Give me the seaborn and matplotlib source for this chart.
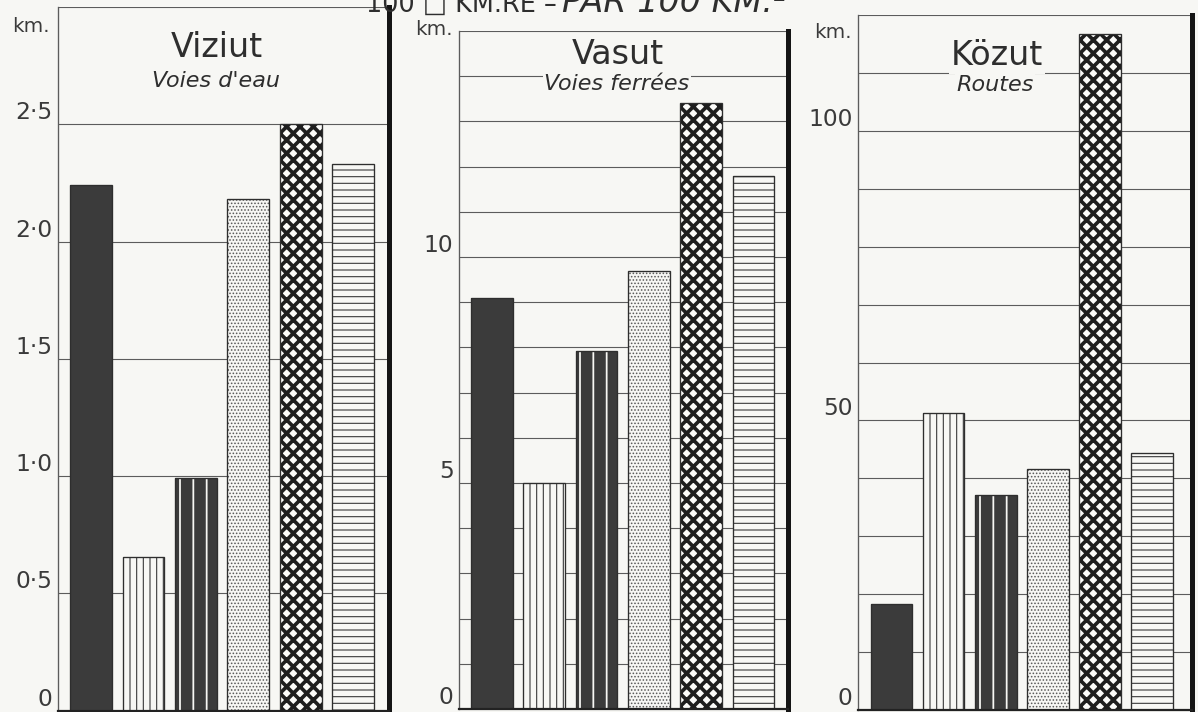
"""
Vízi-, vasúti- és közúti hálózat sűrűsége, km / 100 km²
"""

import numpy as np
import pandas as pd
import matplotlib
matplotlib.use('Agg')
import matplotlib.pyplot as plt
from matplotlib.patches import Rectangle
import seaborn as sns

# the six countries, in bar order (not named on the chart itself)
bar_keys = ['1', '2', '3', '4', '5', '6']

viziut_km = [2.24, 0.655, 0.99, 2.18, 2.50, 2.33]
vasut_km = [9.1, 5.0, 7.93, 9.7, 13.4, 11.8]
kozut_km = [18.3, 51.3, 37.1, 41.6, 116.8, 44.4]

panel_titles = ['Viziut', 'Vasut', 'Közut']
panel_subtitles = ["Voies d'eau", 'Voies ferrées', 'Routes']

viziut_ticks = [0, 0.5, 1.0, 1.5, 2.0, 2.5, 3.0]
viziut_ticklabels = ['0', '0·5', '1·0', '1·5', '2·0', '2·5', '']
vasut_ticks = list(range(0, 16))
vasut_ticklabels = ['0', '', '', '', '', '5', '', '', '', '', '10', '', '', '', '', '']
kozut_ticks = list(range(0, 130, 10))
kozut_ticklabels = ['0', '', '', '', '', '50', '', '', '', '', '100', '', '']

BG = '#f7f7f4'
INK = '#2e2e2e'
DARK = '#3b3b3b'
GRID = '#5c5c5c'

W, H, DPI = 1198, 712, 80

sns.set_style('white')
plt.rcParams['font.family'] = ['DejaVu Sans']
plt.rcParams['hatch.linewidth'] = 1.0
plt.rcParams['text.color'] = INK

# fill / hatch colour / hatch for the six bars
# (bar 5: thick dark cross-hatch leaves a staggered grid of light "dots")
bar_styles = [
    dict(fc=DARK, hc=DARK, hatch=None, hlw=1.0),
    dict(fc=BG, hc='#3a3a3a', hatch='||', hlw=1.0),
    dict(fc=DARK, hc=BG, hatch='|', hlw=1.6),
    dict(fc=BG, hc='#585858', hatch='....', hlw=0.9),
    dict(fc='#fbfbf9', hc='#1e1e1e', hatch='xx', hlw=3.3),
    dict(fc=BG, hc='#3a3a3a', hatch='--', hlw=1.0),
]


def frac(left, right, top, bottom):
    return [left / W, 1 - bottom / H, (right - left) / W, (bottom - top) / H]


fig = plt.figure(figsize=(W / DPI, H / DPI), dpi=DPI, facecolor=BG)

panels = [
    dict(vals=viziut_km, ticks=viziut_ticks, labels=viziut_ticklabels,
         box=frac(58, 389, 7, 710.6), xlim=(-0.63, 5.68)),
    dict(vals=vasut_km, ticks=vasut_ticks, labels=vasut_ticklabels,
         box=frac(459, 788, 31, 709), xlim=(-0.63, 5.66)),
    dict(vals=kozut_km, ticks=kozut_ticks, labels=kozut_ticklabels,
         box=frac(858, 1192, 15, 710), xlim=(-0.64, 5.76)),
]

for pan in panels:
    ax = fig.add_axes(pan['box'])
    ax.set_facecolor(BG)
    df = pd.DataFrame({'key': bar_keys, 'km': pan['vals']})
    sns.barplot(data=df, x='key', y='km', ax=ax, width=0.8, color=DARK,
                saturation=1, errorbar=None)

    for p, st in zip(list(ax.patches)[:len(bar_keys)], bar_styles):
        p.set_facecolor(st['fc'])
        p.set_edgecolor(st['hc'])
        p.set_linewidth(0)
        if st['hatch']:
            p.set_hatch(st['hatch'])
            if hasattr(p, 'set_hatch_linewidth'):
                p.set_hatch_linewidth(st['hlw'])
        ax.add_patch(Rectangle(p.get_xy(), p.get_width(), p.get_height(),
                               fill=False, ec=INK, lw=1.2, zorder=p.get_zorder() + 0.1))

    ax.set_xlim(*pan['xlim'])
    ax.set_ylim(pan['ticks'][0], pan['ticks'][-1])
    ax.set_yticks(pan['ticks'])
    ax.set_yticklabels(pan['labels'])
    for lab in ax.get_yticklabels():
        lab.set_verticalalignment('bottom')
    ax.set_xticks([])
    ax.set_xlabel('')
    ax.set_ylabel('')

    ax.set_axisbelow(True)
    ax.yaxis.grid(True, color=GRID, lw=1.0)
    ax.xaxis.grid(False)
    ax.tick_params(axis='y', length=5, width=1.0, color=GRID, pad=0,
                   labelsize=21, labelcolor='#3a3a3a')

    ax.spines['top'].set_visible(False)
    ax.spines['left'].set_color(GRID)
    ax.spines['left'].set_linewidth(1.2)
    ax.spines['right'].set_color('#151515')
    ax.spines['right'].set_linewidth(4.5)
    ax.spines['bottom'].set_color('#222222')
    ax.spines['bottom'].set_linewidth(2)

# panel headings (Hungarian / French)
head_x = [217, 618, 997]
head_y = [57, 64, 65]
sub_x = [216, 617, 995]
sub_y = [87, 90, 91]
for i in range(3):
    fig.text(head_x[i] / W, 1 - head_y[i] / H, panel_titles[i], ha='center', va='baseline',
             fontsize=30, color=INK,
             bbox=dict(fc=BG, ec='none', pad=1.5))
    fig.text(sub_x[i] / W, 1 - sub_y[i] / H, panel_subtitles[i], ha='center', va='baseline',
             fontsize=20, style='italic', color=INK,
             bbox=dict(fc=BG, ec='none', pad=1.5))

# unit labels
for kx, ky in [(50, 32), (453, 35), (852, 38)]:
    fig.text(kx / W, 1 - ky / H, 'km.', ha='right', va='baseline', fontsize=18, color='#3a3a3a')

# main title, cut off by the top edge of the scan
fig.text(557 / W, 1 - 12 / H, '100 □ KM.RE –', ha='right', va='baseline',
         fontsize=23, color=INK)
fig.text(562 / W, 1 - 12 / H, 'PAR 100 KM.²', ha='left', va='baseline',
         fontsize=30, style='italic', color=INK)

fig.savefig('out.png', dpi=DPI, facecolor=BG)
